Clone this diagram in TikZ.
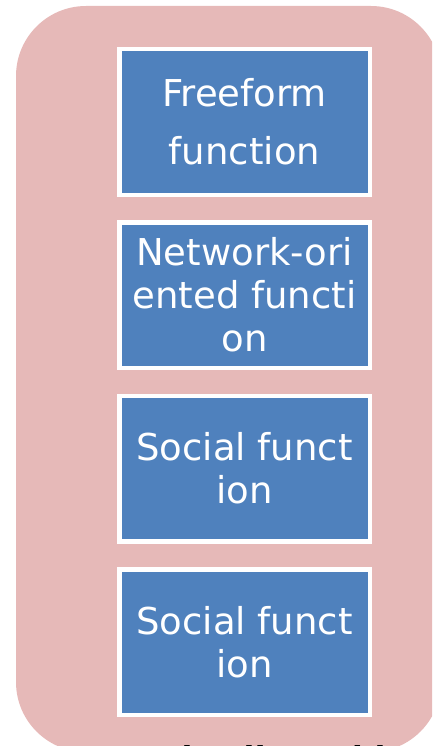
\documentclass[tikz,border=0pt]{standalone}
\usepackage{fontspec}
\newfontfamily\boxfont{DejaVu Sans}
\newfontfamily\notefont{Liberation Sans}
\definecolor{panelpink}{RGB}{230,185,184}
\definecolor{boxblue}{RGB}{79,129,189}
\begin{document}
\begin{tikzpicture}[x=1pt,y=-1pt,
  funcbox/.style={rectangle, fill=boxblue, draw=white, line width=4.5pt,
    minimum width=250.5pt, minimum height=145.5pt, inner sep=0pt,
    text=white, align=center, font=\boxfont\fontsize{37}{43}\selectfont},
  notetext/.style={anchor=base west, inner sep=0pt,
    font=\notefont\bfseries\itshape\fontsize{40}{48}\selectfont}]
\useasboundingbox (0,0) rectangle (432,746);
\clip (0,0) rectangle (432,746);
% rounded panel behind the stack
\fill[panelpink, rounded corners=70pt] (16,6) rectangle (441,752);
% function boxes
\node[funcbox, font=\boxfont\fontsize{37}{58}\selectfont] (free) at (244.5,122) {Freeform\\function};
\node[funcbox] (net) at (244.5,295) {Network-ori\\ented functi\\on};
\node[funcbox] (soc1) at (244.5,468.5) {Social funct\\ion};
\node[funcbox] (soc2) at (244.5,642) {Social funct\\ion};
% caption running off the lower edge
\node[notetext] (note) at (149,774) {Distributed in different};
\end{tikzpicture}
\end{document}
